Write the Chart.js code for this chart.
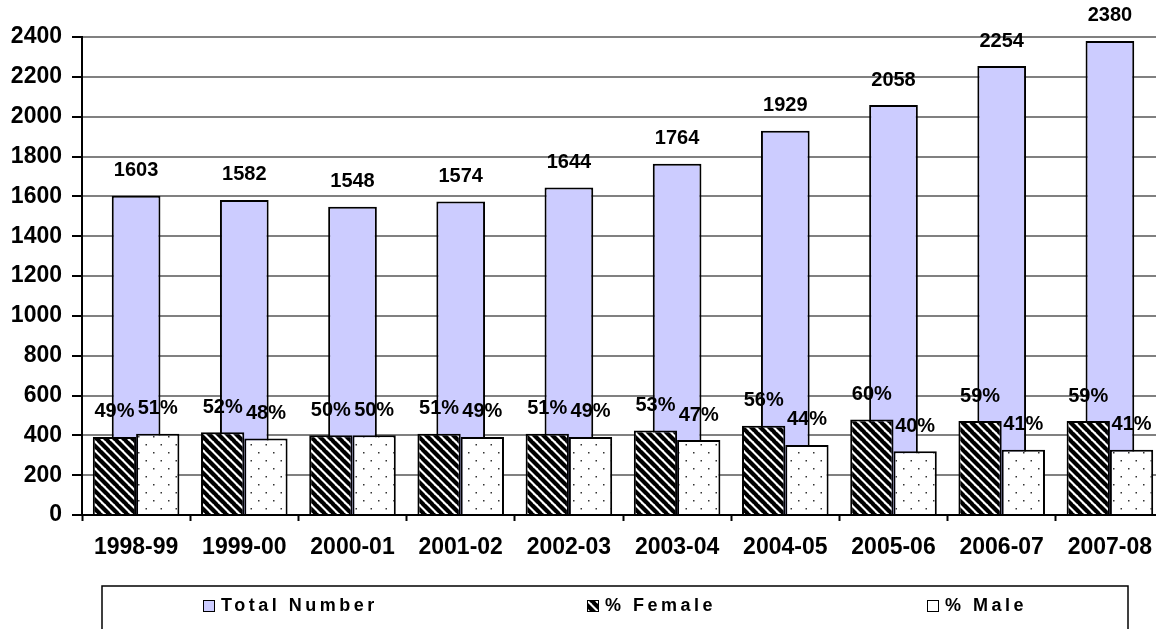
<!DOCTYPE html>
<html>
<head>
<meta charset="utf-8">
<script src="https://cdn.jsdelivr.net/npm/chart.js@4.4.1/dist/chart.umd.min.js"></script>
<style>
  html, body { margin: 0; padding: 0; background: #fff; overflow: hidden; }
  #wrap { width: 1166px; height: 629px; }
</style>
</head>
<body>
<div id="wrap"><canvas id="chart"></canvas></div>
<script>
const years = ['1998-99', '1999-00', '2000-01', '2001-02', '2002-03', '2003-04', '2004-05', '2005-06', '2006-07', '2007-08'];
const totalNumber = [1603, 1582, 1548, 1574, 1644, 1764, 1929, 2058, 2254, 2380];
const femalePct = [49, 52, 50, 51, 51, 53, 56, 60, 59, 59];
const malePct = [51, 48, 50, 49, 49, 47, 44, 40, 41, 41];
// heights the percentage bars are drawn at on the count axis
const femaleBar = [392, 416, 400, 408, 408, 424, 448, 480, 472, 472];
const maleBar = [408, 384, 400, 392, 392, 376, 352, 320, 328, 328];
const yMax = 2400;
const yStep = 200;

const FONT = '"Liberation Sans", Arial, sans-serif';

function hatchPattern() {
  const s = 9;
  const c = document.createElement('canvas');
  c.width = s; c.height = s;
  const g = c.getContext('2d');
  g.fillStyle = '#fff';
  g.fillRect(0, 0, s, s);
  g.strokeStyle = '#000';
  g.lineWidth = 4.2;
  for (let k = -1; k <= 1; k++) {
    g.beginPath();
    g.moveTo(k * s - 1, -1);
    g.lineTo(k * s + s + 1, s + 1);
    g.stroke();
  }
  return g.createPattern(c, 'repeat');
}

function dotPattern() {
  const c = document.createElement('canvas');
  c.width = 15; c.height = 16;
  const g = c.getContext('2d');
  g.fillStyle = '#fff';
  g.fillRect(0, 0, 15, 16);
  g.fillStyle = '#333';
  g.fillRect(3, 4, 1.5, 1.5);
  g.fillRect(10.5, 12, 1.5, 1.5);
  return g.createPattern(c, 'repeat');
}

const barLabels = {
  id: 'barLabels',
  afterDatasetsDraw(chart) {
    const ctx = chart.ctx;
    ctx.save();
    ctx.font = 'bold 20px ' + FONT;
    ctx.fillStyle = '#000';
    ctx.textAlign = 'center';
    ctx.textBaseline = 'middle';
    chart.data.datasets.forEach((ds, i) => {
      chart.getDatasetMeta(i).data.forEach((bar, j) => {
        ctx.fillText(ds.labelText[j], bar.x, bar.y - 25);
      });
    });
    ctx.restore();
  }
};

const boxLegend = {
  id: 'boxLegend',
  afterDraw(chart) {
    const ctx = chart.ctx;
    const itemX = [203, 587, 927];
    ctx.save();
    ctx.strokeStyle = '#000';
    ctx.lineWidth = 1.5;
    ctx.strokeRect(102, 586, 1026, 60);
    ctx.font = 'bold 18px ' + FONT;
    ctx.letterSpacing = '3.5px';
    ctx.textBaseline = 'middle';
    ctx.textAlign = 'left';
    chart.data.datasets.forEach((ds, i) => {
      const x = itemX[i];
      ctx.fillStyle = ds.backgroundColor;
      ctx.fillRect(x, 600.5, 11, 11);
      ctx.lineWidth = 1;
      ctx.strokeRect(x + 0.5, 600.5, 11, 11);
      ctx.fillStyle = '#000';
      ctx.fillText(ds.label, x + 18, 606.5);
    });
    ctx.restore();
  }
};

const ctx = document.getElementById('chart').getContext('2d');
new Chart(ctx, {
  type: 'bar',
  data: {
    labels: years,
    datasets: [
      {
        label: 'Total Number',
        data: totalNumber,
        labelText: totalNumber.map(String),
        backgroundColor: '#ccccff',
        borderColor: '#000',
        borderWidth: 2,
        grouped: false,
        categoryPercentage: 0.9,
        barPercentage: 0.5,
        order: 3
      },
      {
        label: '% Female',
        data: femaleBar,
        labelText: femalePct.map(v => v + '%'),
        backgroundColor: hatchPattern(),
        borderColor: '#000',
        borderWidth: 2,
        categoryPercentage: 0.8,
        barPercentage: 1,
        order: 1
      },
      {
        label: '% Male',
        data: maleBar,
        labelText: malePct.map(v => v + '%'),
        backgroundColor: dotPattern(),
        borderColor: '#000',
        borderWidth: 2,
        categoryPercentage: 0.8,
        barPercentage: 1,
        order: 2
      }
    ]
  },
  options: {
    responsive: true,
    maintainAspectRatio: false,
    animation: false,
    layout: { padding: { top: 37, left: 0, right: 2, bottom: 64 } },
    plugins: {
      legend: { display: false },
      tooltip: { enabled: false }
    },
    scales: {
      x: {
        afterFit: (s) => { s.height = 50; },
        grid: { drawOnChartArea: false, drawTicks: true, tickLength: 6, tickColor: '#000', tickWidth: 2 },
        border: { color: '#000', width: 2 },
        ticks: { color: '#000', padding: 13, font: { family: FONT, size: 23, weight: 'bold' }, maxRotation: 0, autoSkip: false }
      },
      y: {
        min: 0,
        max: yMax,
        afterFit: (s) => { s.width = 82; },
        grid: { color: '#808080', lineWidth: 2, tickLength: 10, tickColor: '#000', tickWidth: 2 },
        border: { color: '#000', width: 2 },
        ticks: {
          stepSize: yStep, color: '#000', padding: 10,
          font: { family: FONT, size: 23, weight: 'bold' },
          callback: (v) => String(v)
        }
      }
    }
  },
  plugins: [barLabels, boxLegend]
});
</script>
</body>
</html>
